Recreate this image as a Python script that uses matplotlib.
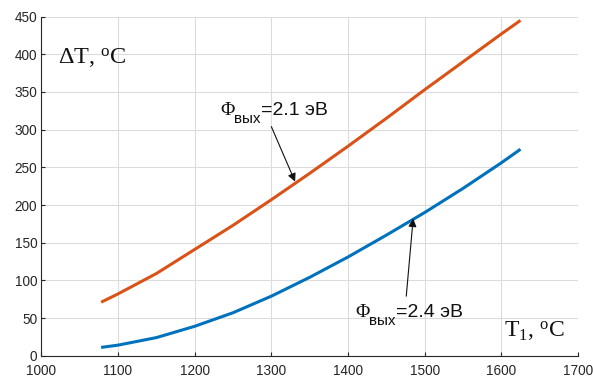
import matplotlib
matplotlib.use("Agg")
import matplotlib.pyplot as plt
import numpy as np

plt.rcParams['mathtext.fontset'] = 'custom'
plt.rcParams['mathtext.rm'] = 'Liberation Serif'
plt.rcParams['mathtext.sf'] = 'Liberation Sans'
plt.rcParams['mathtext.it'] = 'Liberation Serif:italic'

T1 = [1078, 1100, 1150, 1200, 1250, 1300, 1350, 1400, 1450, 1500, 1550, 1600, 1625]
dT_21 = [71, 82, 109, 141, 173, 207, 242, 278, 315, 353, 390, 427, 445]
dT_24 = [11, 14, 24, 39, 57, 79, 104, 131, 160, 190, 222, 256, 274]

xticks = [1000, 1100, 1200, 1300, 1400, 1500, 1600, 1700]
yticks = [0, 50, 100, 150, 200, 250, 300, 350, 400, 450]

fig = plt.figure(figsize=(5.93, 3.78), dpi=100)
ax = fig.add_axes([0.0697, 0.059, 0.905, 0.897])

ax.plot(T1, dT_21, color='#D95319', lw=2.2, solid_capstyle='butt')
ax.plot(T1, dT_24, color='#0072BD', lw=2.2, solid_capstyle='butt')

ax.set_xlim(1000, 1700)
ax.set_ylim(0, 450)
ax.set_xticks(xticks)
ax.set_yticks(yticks)
ax.grid(True, color='#dcdcdc', lw=0.8)
ax.set_axisbelow(True)
for s in ['top', 'right']:
    ax.spines[s].set_visible(False)
for s in ['left', 'bottom']:
    ax.spines[s].set_color('#262626')
    ax.spines[s].set_linewidth(0.8)
ax.tick_params(direction='in', length=3, width=0.8, colors='#262626',
               labelsize=9.8)
ax.tick_params(axis='x', pad=6)
ax.tick_params(axis='y', pad=3)
for lab in ax.get_xticklabels() + ax.get_yticklabels():
    lab.set_fontfamily('Liberation Sans')

ax.text(1022, 388, r'ΔT, $^{\mathrm{o}}$C', fontfamily='Liberation Serif',
        fontsize=17.5, color='#111111', va='baseline')
ax.text(1604, 25, r'T$_{\mathrm{1}}$, $^{\mathrm{o}}$C', fontfamily='Liberation Serif',
        fontsize=17, color='#111111', va='baseline')

def phi_label(x, y, rest):
    ax.annotate('Φ', xy=(x, y), xycoords='data', fontfamily='Liberation Serif',
                fontsize=14, color='#111111', va='baseline')
    ax.annotate('вых', xy=(x, y), xycoords='data', xytext=(10.2, -5.8),
                textcoords='offset points', fontfamily='Liberation Sans',
                fontsize=11, color='#111111', va='baseline')
    ax.annotate(rest, xy=(x, y), xycoords='data', xytext=(29.5, 0),
                textcoords='offset points', fontfamily='Liberation Sans',
                fontsize=14, color='#111111', va='baseline')

phi_label(1233, 320, '=2.1 эВ')
phi_label(1409, 52, '=2.4 эВ')

ax.annotate('', xy=(1331, 231), xytext=(1300, 304),
            arrowprops=dict(arrowstyle='-|>', color='#111111', lw=0.8,
                            mutation_scale=12, shrinkA=0, shrinkB=0))
ax.annotate('', xy=(1485, 182), xytext=(1476, 79),
            arrowprops=dict(arrowstyle='-|>', color='#111111', lw=0.8,
                            mutation_scale=12, shrinkA=0, shrinkB=0))

fig.savefig('out.png', dpi=100)
